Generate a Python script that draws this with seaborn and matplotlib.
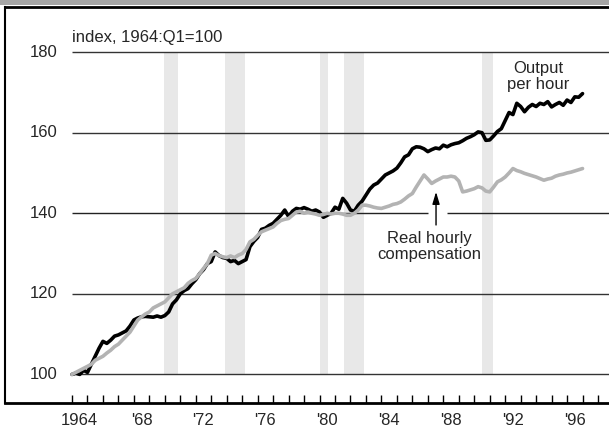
import pandas as pd
import matplotlib.pyplot as plt
import matplotlib.patches as mpatches
import seaborn as sns

# Quarterly index, 1964:Q1 = 100
output_per_hour = [
    100.0, 100.3, 100.0, 101.0,   # 1964
    100.5, 102.5, 104.5, 106.5,   # 1965
    108.2, 107.7, 108.5, 109.5,   # 1966
    109.8, 110.3, 110.8, 112.0,   # 1967
    113.5, 114.0, 114.3, 114.4,   # 1968
    114.3, 114.2, 114.5, 114.2,   # 1969
    114.6, 115.5, 117.5, 118.5,   # 1970
    120.0, 120.8, 121.3, 122.5,   # 1971
    123.5, 125.0, 126.0, 127.5,   # 1972
    128.0, 130.4, 129.5, 129.0,   # 1973
    128.8, 128.0, 128.3, 127.5,   # 1974
    128.0, 128.5, 131.7, 133.0,   # 1975
    134.0, 136.0, 136.3, 137.0,   # 1976
    137.5, 138.5, 139.5, 140.8,   # 1977
    139.2, 140.5, 141.2, 141.0,   # 1978
    141.4, 141.0, 140.5, 140.8,   # 1979
    140.3, 139.0, 139.5, 140.0,   # 1980
    141.5, 141.0, 143.7, 142.5,   # 1981
    140.8, 140.5, 142.0, 143.0,   # 1982
    144.5, 146.0, 147.0, 147.5,   # 1983
    148.5, 149.5, 150.0, 150.5,   # 1984
    151.2, 152.5, 154.0, 154.5,   # 1985
    156.0, 156.5, 156.4, 156.0,   # 1986
    155.3, 155.8, 156.2, 156.0,   # 1987
    156.9, 156.5, 157.0, 157.3,   # 1988
    157.5, 158.0, 158.6, 159.0,   # 1989
    159.5, 160.2, 160.0, 158.1,   # 1990
    158.2, 159.2, 160.3, 161.0,   # 1991
    163.0, 165.0, 164.5, 167.3,   # 1992
    166.5, 165.2, 166.3, 167.0,   # 1993
    166.5, 167.3, 167.0, 167.7,   # 1994
    166.4, 167.0, 167.5, 166.8,   # 1995
    168.1, 167.5, 168.9, 168.8,   # 1996
    169.7,                        # 1997
]
real_hourly_comp = [
    100.0, 100.5, 101.0, 101.5,   # 1964
    102.0, 102.5, 103.5, 104.0,   # 1965
    104.5, 105.3, 106.0, 106.9,   # 1966
    107.5, 108.5, 109.5, 110.5,   # 1967
    112.0, 113.5, 114.3, 115.0,   # 1968
    115.5, 116.5, 117.0, 117.5,   # 1969
    118.0, 119.0, 120.0, 120.5,   # 1970
    121.0, 121.5, 122.6, 123.3,   # 1971
    123.8, 125.0, 126.3, 127.5,   # 1972
    129.6, 130.0, 129.5, 129.2,   # 1973
    129.0, 129.4, 129.0, 129.6,   # 1974
    130.0, 131.0, 132.9, 133.5,   # 1975
    134.5, 135.4, 135.8, 136.2,   # 1976
    136.6, 137.5, 138.2, 138.5,   # 1977
    138.7, 139.5, 140.3, 140.5,   # 1978
    140.0, 140.3, 140.0, 139.8,   # 1979
    139.5, 139.7, 140.0, 139.8,   # 1980
    140.0, 140.0, 139.8, 139.5,   # 1981
    139.5, 140.0, 140.8, 142.0,   # 1982
    142.0, 141.8, 141.5, 141.3,   # 1983
    141.2, 141.5, 141.8, 142.2,   # 1984
    142.4, 142.8, 143.5, 144.3,   # 1985
    144.9, 146.5, 148.0, 149.5,   # 1986
    148.5, 147.4, 148.0, 148.5,   # 1987
    149.0, 149.0, 149.2, 149.0,   # 1988
    148.0, 145.3, 145.5, 145.8,   # 1989
    146.1, 146.6, 146.3, 145.5,   # 1990
    145.3, 146.5, 147.8, 148.3,   # 1991
    149.0, 150.0, 151.1, 150.6,   # 1992
    150.3, 149.9, 149.6, 149.3,   # 1993
    149.0, 148.6, 148.2, 148.5,   # 1994
    148.7, 149.2, 149.5, 149.7,   # 1995
    150.0, 150.2, 150.5, 150.8,   # 1996
    151.1,                        # 1997
]

# recessions (decimal years)
recessions = [(1969.95, 1970.85), (1973.88, 1975.2), (1980.05, 1980.55),
              (1981.55, 1982.88), (1990.52, 1991.22)]

year_labels = ["1964", "'68", "'72", "'76", "'80", "'84", "'88", "'92", "'96"]
label_years = [1964, 1968, 1972, 1976, 1980, 1984, 1988, 1992, 1996]
y_gridlines = [100, 120, 140, 160, 180]

quarters = pd.period_range("1964Q1", "1997Q1", freq="Q")
df = pd.DataFrame({
    "t": quarters.year + (quarters.quarter - 1) / 4,
    "output": output_per_hour,
    "comp": real_hourly_comp,
})

sns.set_style("white")
plt.rcParams["font.family"] = ["Liberation Sans", "DejaVu Sans"]
plt.rcParams["font.size"] = 12

fig = plt.figure(figsize=(6.09, 4.28), dpi=100)
# grey title strip at top
fig.patches.append(mpatches.Rectangle((0, 423 / 428), 1, 5 / 428, transform=fig.transFigure,
                                      facecolor="#a6a6a6", edgecolor="none"))
ax = fig.add_axes([5 / 609, 25 / 428, 604 / 609, 396 / 428])

x0, x1 = 1959.67, 1998.71
ax.set_xlim(x0, x1)
ax.set_ylim(92.9, 191.2)

for s, e in recessions:
    ax.fill_between([s, e], 100, 180, color="#e8e8e8", lw=0, zorder=0)

for v in y_gridlines:
    if v == 140:
        ax.hlines(v, 1964, 1986.99, color="#222222", lw=1, zorder=1)
        ax.hlines(v, 1988.24, x1, color="#222222", lw=1, zorder=1)
    else:
        ax.hlines(v, 1964, x1, color="#333333", lw=1, zorder=1)
    ax.text(1963.05, v, str(v), ha="right", va="center", fontsize=12)

sns.lineplot(data=df, x="t", y="output", color="black", lw=2.6, ax=ax, zorder=3)
sns.lineplot(data=df, x="t", y="comp", color="#b3b3b3", lw=2.6, ax=ax, zorder=4)

ax.text(1964, 183.6, "index, 1964:Q1=100", ha="left", va="center", fontsize=12)
ax.text(1994.12, 174.0, "Output\nper hour", ha="center", va="center", fontsize=12,
        linespacing=1.05)
ax.text(1987.1, 131.7, "Real hourly\ncompensation", ha="center", va="center",
        fontsize=12, linespacing=1.05)
ax.annotate("", xy=(1987.53, 146.0), xytext=(1987.53, 136.4),
            arrowprops=dict(arrowstyle="-|>,head_length=0.6,head_width=0.18",
                            color="black", lw=1))

ax.set_xticks(range(1964, 1999))
ax.set_xticks([y + 0.5 for y in label_years], minor=True)
ax.set_xticklabels([])
ax.set_xticklabels(year_labels, minor=True)
ax.tick_params(axis="x", which="major", direction="in", length=6, width=1,
               color="black", bottom=True)
ax.tick_params(axis="x", which="minor", length=0, pad=7, labelsize=12)
ax.set_yticks([])
ax.set_xlabel("")
ax.set_ylabel("")

for side in ["left", "top", "bottom"]:
    ax.spines[side].set_visible(True)
    ax.spines[side].set_color("black")
ax.spines["left"].set_linewidth(1.5)
ax.spines["top"].set_linewidth(2)
ax.spines["bottom"].set_linewidth(2)
ax.spines["right"].set_visible(False)

fig.savefig("out.png", dpi=100)
